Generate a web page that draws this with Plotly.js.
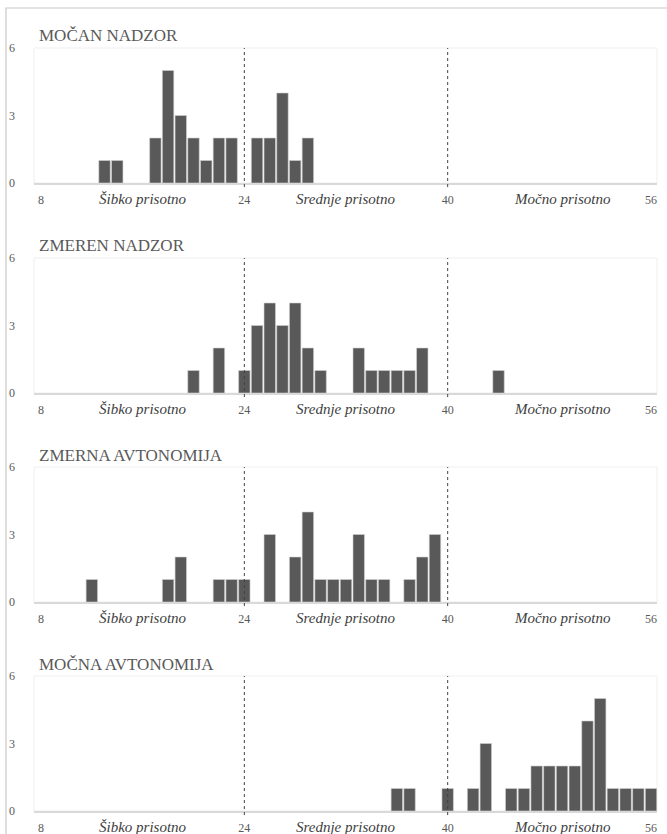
<!DOCTYPE html>
<html>
<head>
<meta charset="utf-8">
<script src="https://cdn.plot.ly/plotly-3.0.1.min.js"></script>
<style>html,body{margin:0;padding:0;background:#fff;}#chart{width:667px;height:834px;}</style>
</head>
<body>
<div id="chart"></div>
<script>
// ---- data ----
const panelTitles = ["MOČAN NADZOR", "ZMEREN NADZOR", "ZMERNA AVTONOMIJA", "MOČNA AVTONOMIJA"];

const mocanNadzorX = [13, 14, 17, 18, 19, 20, 21, 22, 23, 25, 26, 27, 28, 29];
const mocanNadzorY = [1, 1, 2, 5, 3, 2, 1, 2, 2, 2, 2, 4, 1, 2];

const zmerenNadzorX = [20, 22, 24, 25, 26, 27, 28, 29, 30, 33, 34, 35, 36, 37, 38, 44];
const zmerenNadzorY = [1, 2, 1, 3, 4, 3, 4, 2, 1, 2, 1, 1, 1, 1, 2, 1];

const zmernaAvtonomijaX = [12, 18, 19, 22, 23, 24, 26, 28, 29, 30, 31, 32, 33, 34, 35, 37, 38, 39];
const zmernaAvtonomijaY = [1, 1, 2, 1, 1, 1, 3, 2, 4, 1, 1, 1, 3, 1, 1, 1, 2, 3];

const mocnaAvtonomijaX = [36, 37, 40, 42, 43, 45, 46, 47, 48, 49, 50, 51, 52, 53, 54, 55, 56];
const mocnaAvtonomijaY = [1, 1, 1, 1, 3, 1, 1, 2, 2, 2, 2, 4, 5, 1, 1, 1, 1];

const xTickVals = [8, 24, 40, 56];
const xTickText = ["8", "24", "40", "56"];
const yTickVals = [0, 3, 6];
const zoneLabels = ["Šibko prisotno", "Srednje prisotno", "Močno prisotno"];
const zoneLabelPos = [16, 32, 49];
const cutoffs = [24, 40];

const seriesX = [mocanNadzorX, zmerenNadzorX, zmernaAvtonomijaX, mocnaAvtonomijaX];
const seriesY = [mocanNadzorY, zmerenNadzorY, zmernaAvtonomijaY, mocnaAvtonomijaY];

// ---- layout helpers ----
const W = 667, H = 834;
const panelTopPx = [48, 258, 467, 676];
const panelH = 135;
const serif = "Times New Roman, Liberation Serif, Tinos, Noto Serif, DejaVu Serif, serif";

const data = [];
const layout = {
  width: W, height: H,
  margin: {l: 0, r: 0, t: 0, b: 0},
  paper_bgcolor: "#ffffff",
  plot_bgcolor: "#ffffff",
  showlegend: false,
  bargap: 0.1,
  font: {family: serif},
  shapes: [],
  annotations: []
};

// outer chart border
layout.shapes.push({
  type: "rect", xref: "paper", yref: "paper",
  x0: 6 / W, x1: 1.2, y0: -0.2, y1: 1 - 8 / H,
  line: {color: "#c8c8c8", width: 1.2}, fillcolor: "rgba(0,0,0,0)", layer: "below"
});

for (let i = 0; i < 4; i++) {
  const s = i === 0 ? "" : String(i + 1);
  const xa = "x" + s, ya = "y" + s;
  const top = panelTopPx[i], bot = top + panelH;
  data.push({
    type: "bar", x: seriesX[i], y: seriesY[i],
    xaxis: xa, yaxis: ya,
    marker: {color: "#595959", line: {color: "#d0d0d0", width: 0.6}},
    hoverinfo: "x+y"
  });
  layout["xaxis" + s] = {
    domain: [34 / W, 657 / W],
    anchor: ya,
    range: [7.45, 56.47],
    tickvals: xTickVals, ticktext: xTickText,
    ticks: "", showgrid: false, zeroline: false,
    showline: true, linecolor: "#d9d9d9", linewidth: 1.5,
    tickfont: {family: serif, size: 12, color: "#595959"},
    ticklabelstandoff: 5,
    fixedrange: true
  };
  layout["yaxis" + s] = {
    domain: [1 - bot / H, 1 - top / H],
    anchor: xa,
    range: [0, 6],
    tickvals: yTickVals,
    ticks: "", showgrid: false, zeroline: false, showline: false,
    tickfont: {family: serif, size: 12, color: "#595959"},
    ticklabelstandoff: 18,
    fixedrange: true
  };
  // plot area border
  layout.shapes.push({
    type: "rect", xref: xa + " domain", yref: ya + " domain",
    x0: 0, x1: 1, y0: 0, y1: 1,
    line: {color: "#efefef", width: 1}, fillcolor: "rgba(0,0,0,0)", layer: "below"
  });
  // cutoff dashed lines
  cutoffs.forEach(c => {
    layout.shapes.push({
      type: "line", xref: xa, yref: ya + " domain",
      x0: c, x1: c, y0: -0.03, y1: 1,
      line: {color: "#404040", width: 1, dash: "dot"}, layer: "above"
    });
  });
  // panel title
  layout.annotations.push({
    xref: "paper", yref: "paper",
    x: 37 / W, y: 1 - (top - 12) / H,
    xanchor: "left", yanchor: "middle",
    text: panelTitles[i], showarrow: false,
    font: {family: serif, size: 17, color: "#595959"}
  });
  // zone labels
  zoneLabels.forEach((lab, k) => {
    layout.annotations.push({
      xref: xa, yref: ya + " domain",
      x: zoneLabelPos[k], y: -16 / panelH,
      xanchor: "center", yanchor: "middle",
      text: "<i>" + lab + "</i>", showarrow: false,
      font: {family: serif, size: 15, color: "#404040"}
    });
  });
}

Plotly.newPlot("chart", data, layout, {displayModeBar: false, staticPlot: true});
</script>
</body>
</html>
